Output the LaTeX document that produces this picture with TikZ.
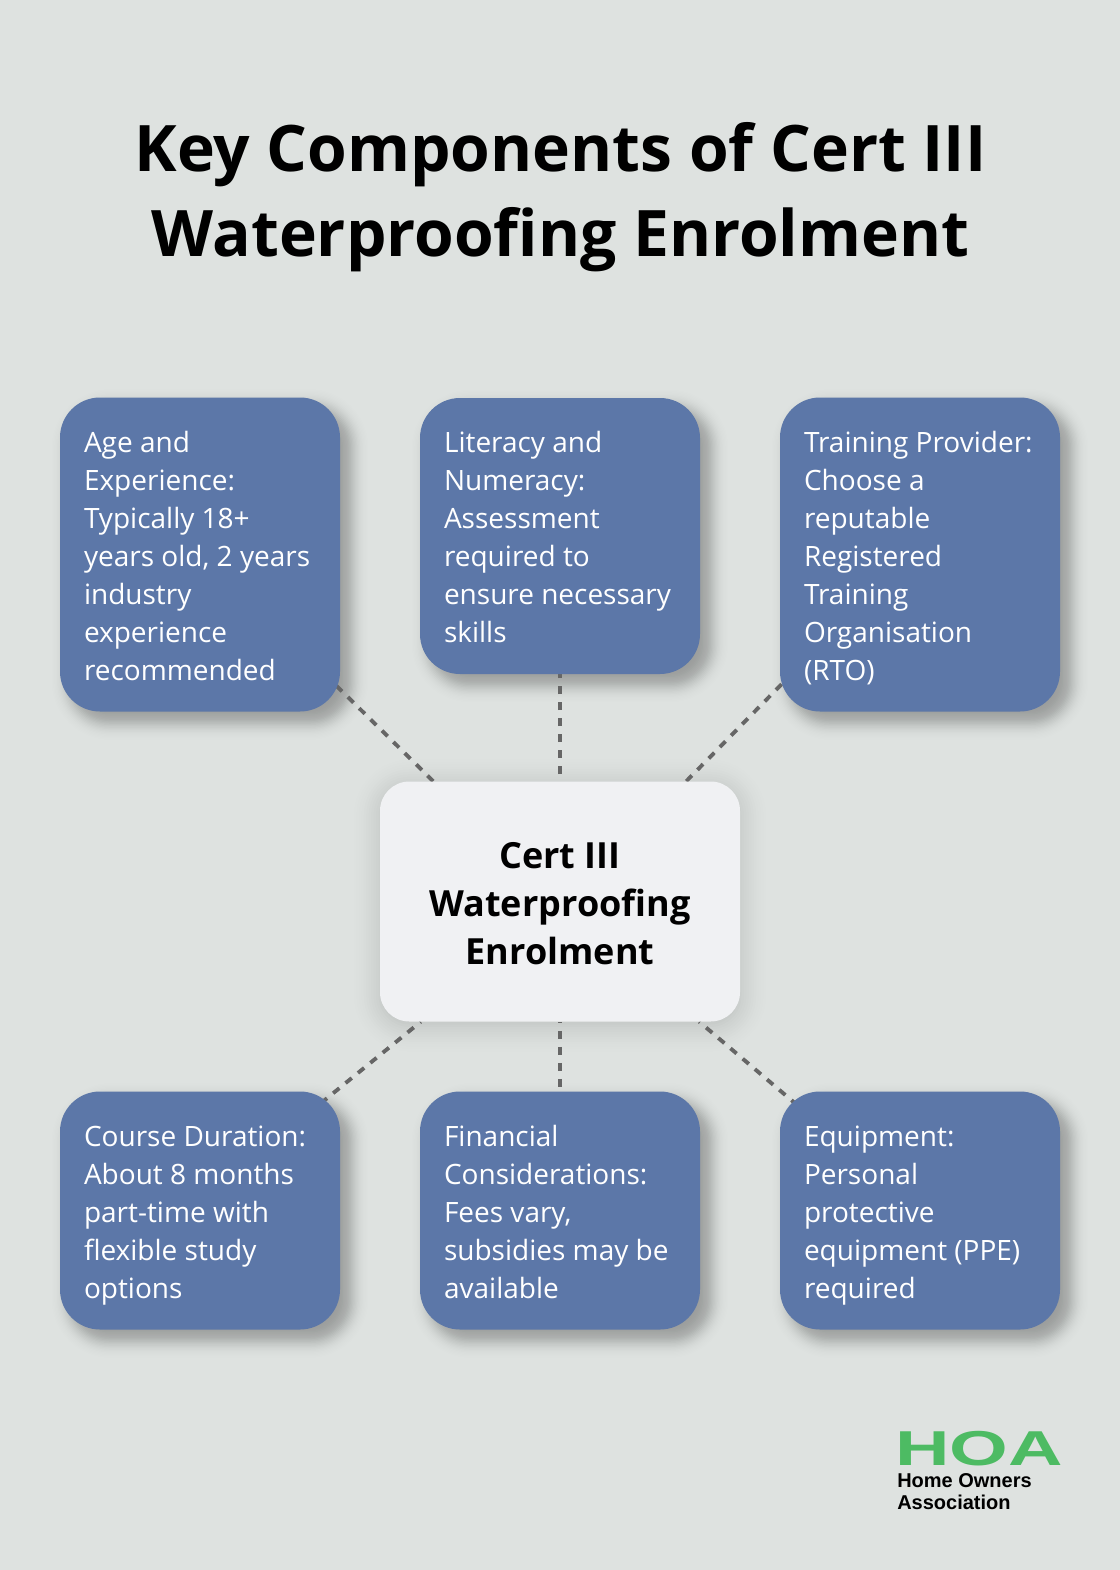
\documentclass[tikz,border=0pt]{standalone}
\usepackage{fontspec}
\setmainfont{Open Sans}
\newfontfamily\logofont{Liberation Sans}
\usetikzlibrary{calc}
\definecolor{pagebg}{HTML}{DEE2E0}
\definecolor{cardblue}{HTML}{5C77A8}
\definecolor{centerfill}{HTML}{F0F1F3}
\definecolor{dashgray}{HTML}{666666}
\definecolor{logogreen}{HTML}{4DBB63}
\pgfdeclarelayer{pagelayer}
\pgfdeclarelayer{shadowlayer}
\pgfdeclarelayer{linelayer}
\pgfsetlayers{pagelayer,shadowlayer,linelayer,main}
% #1 node, #2 radius, #3 dx, #4 dy, #5 half range R, #6 sigma, #7 peak layer opacity
\newcommand\softshadow[7]{%
  \foreach \i in {0,...,39}{%
    \pgfmathsetmacro\g{#5*(\i/19.5-1)}%
    \pgfmathsetmacro\aa{#7*exp(-(\g/#6)*(\g/#6))}%
    \pgfmathsetmacro\rr{max(0.75*(#2+\g),0.5)}%
    \path[fill=black,fill opacity=\aa,rounded corners=\rr pt]
      ($(#1.south west)+(#3-\g,#4+\g)$) rectangle ($(#1.north east)+(#3+\g,#4-\g)$);
  }%
}
\newcommand\cardtop[1]{\rule{0pt}{\dimexpr19.95pt+#1pt\relax}}
\newcommand\hubtop[1]{\rule{0pt}{\dimexpr25.2pt+#1pt\relax}}
\tikzset{
  card/.style={draw=none,fill=cardblue,rounded corners=30pt,minimum width=210pt,
    text width=174pt,inner xsep=18pt,inner ysep=0pt,align=flush left,text=white,
    font=\fontsize{21}{28.5}\selectfont},
  hub/.style={draw=none,fill=centerfill,rounded corners=22pt,minimum width=270pt,minimum height=180pt,
    text width=230pt,inner sep=0pt,align=flush center,text=black,
    font=\fontsize{27}{36}\selectfont\bfseries},
  link/.style={draw=dashgray,line width=2.9pt,dash pattern=on 6pt off 6pt},
  titletext/.style={font=\fontsize{48.1}{63.75}\selectfont\bfseries,align=center,text=black,inner sep=0pt},
  logotext/.style={inner sep=0pt,anchor=base west,align=left,text=black,font=\logofont\fontsize{15}{16.5}\selectfont\bfseries},
}
\begin{document}
\begin{tikzpicture}[x=0.75pt,y=-0.75pt]
\useasboundingbox (0,0) rectangle (1120,1570);
\begin{pgfonlayer}{pagelayer}
\fill[pagebg] (0,0) rectangle (1120,1570);
\end{pgfonlayer}

\node[titletext] (title) at (560.5,197.5) {Key Components of Cert III\\Waterproofing Enrolment};

\node[card,minimum height=235.5pt] (age) at (200,554.5) {\cardtop{6}Age and\\Experience:\\Typically 18+\\years old, 2 years\\industry\\experience\\recommended\strut};
\node[card,minimum height=207pt] (lit) at (560,536) {\cardtop{6}Literacy and\\Numeracy:\\Assessment\\required to\\ensure necessary\\skills\strut};
\node[card,minimum height=235.5pt] (rto) at (920,554.5) {\cardtop{6}Training Provider:\\Choose a\\reputable\\Registered\\Training\\Organisation\\(RTO)\strut};
\node[card,minimum height=178.5pt] (dur) at (200,1210.5) {\cardtop{6}Course Duration:\\About 8 months\\part-time with\\flexible study\\options\strut};
\node[card,minimum height=178.5pt] (fin) at (560,1210.5) {\cardtop{6}Financial\\Considerations:\\Fees vary,\\subsidies may be\\available\strut};
\node[card,minimum height=178.5pt] (equ) at (920,1210.5) {\cardtop{6}Equipment:\\Personal\\protective\\equipment (PPE)\\required\strut};
\node[hub] (hub) at (560,901.5) {\hubtop{7.5}Cert III\\Waterproofing\\Enrolment\strut};

\begin{pgfonlayer}{shadowlayer}
\foreach \n in {age,lit,rto,dur,fin,equ}{\softshadow{\n}{40}{10}{10}{26}{12}{0.02}}
\softshadow{hub}{30}{0}{4}{48}{22}{0.01}
\end{pgfonlayer}

\begin{pgfonlayer}{linelayer}
\draw[link,dash phase=0pt] ($(hub.north west)+(53.5,0)$) -- ($(age.south east)+(-15,-37)$);
\draw[link,dash phase=6.75pt] (hub) -- (lit);
\draw[link,dash phase=0pt] ($(hub.north east)+(-54,0)$) -- ($(rto.south west)+(15,-41)$);
\draw[link,dash phase=5.25pt] ($(hub.south west)+(41,0)$) -- ($(dur.north east)+(-28,19)$);
\draw[link,dash phase=5.25pt] (hub) -- (fin);
\draw[link,dash phase=5.25pt] ($(hub.south east)+(-41,0)$) -- ($(equ.north west)+(27,22)$);
\end{pgfonlayer}

\node[inner sep=0pt,anchor=base west,text=logogreen,xscale=1.54,font=\logofont\fontsize{36.75}{36.75}\selectfont\bfseries] (logomark) at (895,1465) {HOA};
\node[logotext] (logoname) at (897,1487) {Home Owners};
\node[logotext] (logoname2) at (897,1509) {Association};
\end{tikzpicture}
\end{document}
